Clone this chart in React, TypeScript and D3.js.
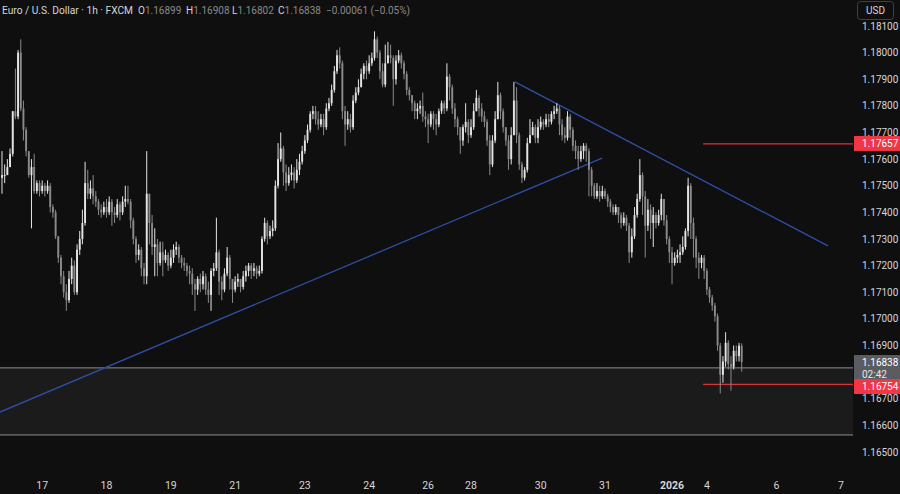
import * as d3 from 'd3';

// EUR/USD 1h candles (open of each bar = previous close)
const firstOpen = 1.1753;

const closes = [
  1.1754, 1.1754, 1.1757, 1.1762, 1.1778, 1.1776, 1.18, 1.1779, 1.1771, 1.1763,
  1.1754, 1.1757, 1.1748, 1.1751, 1.1748, 1.175, 1.1748, 1.175, 1.1742, 1.174,
  1.1731, 1.1723, 1.1716, 1.171, 1.1707, 1.1715, 1.172, 1.171, 1.1726, 1.173,
  1.1736, 1.1751, 1.1747, 1.1749, 1.1746, 1.1744, 1.1741, 1.174, 1.1742, 1.174,
  1.1744, 1.174, 1.1739, 1.1743, 1.174, 1.1744, 1.1745, 1.1744, 1.1737, 1.173,
  1.1724, 1.1726, 1.1719, 1.1716, 1.1747, 1.1736, 1.1727, 1.1728, 1.1721, 1.1725,
  1.1722, 1.1724, 1.172, 1.1723, 1.1726, 1.1727, 1.1723, 1.1721, 1.172, 1.1718,
  1.1717, 1.1713, 1.1711, 1.1715, 1.1713, 1.1716, 1.1711, 1.1709, 1.1718, 1.1719,
  1.1725, 1.1714, 1.1711, 1.1717, 1.1723, 1.1715, 1.1711, 1.1714, 1.1715, 1.1712,
  1.1716, 1.1718, 1.172, 1.1718, 1.1719, 1.1717, 1.1718, 1.173, 1.1736, 1.1731,
  1.1733, 1.1734, 1.175, 1.176, 1.1764, 1.1755, 1.1751, 1.1754, 1.1755, 1.1752,
  1.1756, 1.1759, 1.1763, 1.1767, 1.1771, 1.1777, 1.1778, 1.1775, 1.1773, 1.1775,
  1.1772, 1.1779, 1.1781, 1.1786, 1.1793, 1.1799, 1.1796, 1.1778, 1.1773, 1.1775,
  1.1772, 1.1782, 1.1785, 1.1787, 1.1792, 1.1795, 1.1793, 1.1796, 1.1798, 1.1805,
  1.18, 1.1793, 1.1788, 1.1796, 1.1799, 1.1798, 1.179, 1.1797, 1.1799, 1.1796,
  1.1792, 1.1786, 1.1784, 1.1781, 1.1778, 1.1779, 1.178, 1.1776, 1.1775, 1.1773,
  1.1777, 1.1775, 1.1773, 1.1778, 1.1781, 1.1779, 1.1791, 1.1787, 1.1779, 1.1775,
  1.1772, 1.1767, 1.1772, 1.1774, 1.1769, 1.1772, 1.1778, 1.1783, 1.1779, 1.1776,
  1.1774, 1.1767, 1.1758, 1.1767, 1.1775, 1.1784, 1.1778, 1.1772, 1.1767, 1.176,
  1.1769, 1.1782, 1.1769, 1.1758, 1.1753, 1.1756, 1.1766, 1.1769, 1.1772, 1.1768,
  1.1772, 1.1774, 1.1773, 1.1775, 1.1774, 1.1777, 1.1778, 1.1779, 1.1773, 1.1769,
  1.1768, 1.1776, 1.1771, 1.1765, 1.1763, 1.176, 1.1763, 1.1765, 1.1763, 1.1756,
  1.175, 1.1746, 1.1748, 1.1746, 1.1748, 1.1746, 1.1744, 1.1742, 1.174, 1.1742,
  1.1739, 1.1736, 1.1738, 1.1735, 1.1725, 1.1731, 1.1739, 1.1745, 1.1754, 1.1746,
  1.1735, 1.1741, 1.1736, 1.1739, 1.1736, 1.1739, 1.1745, 1.1737, 1.173, 1.1725,
  1.1721, 1.1723, 1.1724, 1.1725, 1.1727, 1.1733, 1.175, 1.1736, 1.173, 1.1723,
  1.1721, 1.1723, 1.1718, 1.1711, 1.1708, 1.1705, 1.1701, 1.169, 1.1679, 1.1684,
  1.1691, 1.1683, 1.1682, 1.1688, 1.1686, 1.16899, 1.16838,
];

const highs = [
  1.1763, 1.1758, 1.176, 1.1764, 1.1778, 1.1794, 1.1801, 1.1805, 1.1782, 1.1772,
  1.1763, 1.176, 1.1762, 1.1752, 1.1752, 1.1752, 1.1751, 1.1752, 1.1751, 1.1743,
  1.1741, 1.1731, 1.1724, 1.1718, 1.1713, 1.1718, 1.1723, 1.1722, 1.1728, 1.1733,
  1.1741, 1.1759, 1.1756, 1.1752, 1.1754, 1.1748, 1.1745, 1.1743, 1.1744, 1.1745,
  1.1746, 1.1745, 1.1742, 1.1745, 1.1744, 1.1746, 1.175, 1.175, 1.1745, 1.1738,
  1.1731, 1.1728, 1.1727, 1.1721, 1.1763, 1.1747, 1.1739, 1.1734, 1.173, 1.1729,
  1.1729, 1.1726, 1.1725, 1.1726, 1.1728, 1.1729, 1.1728, 1.1724, 1.1723, 1.1721,
  1.172, 1.1719, 1.1715, 1.1716, 1.1717, 1.1718, 1.1717, 1.1714, 1.1719, 1.1721,
  1.1738, 1.1726, 1.1716, 1.1719, 1.1727, 1.1724, 1.1715, 1.1716, 1.1717, 1.1715,
  1.1718, 1.172, 1.1721, 1.1721, 1.1721, 1.172, 1.172, 1.1731, 1.1738, 1.1737,
  1.1735, 1.1737, 1.1752, 1.1766, 1.177, 1.1765, 1.1758, 1.1757, 1.1758, 1.1757,
  1.176, 1.1762, 1.1765, 1.1769, 1.1773, 1.1778, 1.178, 1.178, 1.1778, 1.1777,
  1.1777, 1.1781, 1.1783, 1.1788, 1.1795, 1.1801, 1.1802, 1.1797, 1.178, 1.1778,
  1.1777, 1.1784, 1.1787, 1.179, 1.1794, 1.1796, 1.1797, 1.1799, 1.18, 1.1808,
  1.1806, 1.1801, 1.1796, 1.1803, 1.1804, 1.1803, 1.1799, 1.1799, 1.1801, 1.18,
  1.1797, 1.1793, 1.1787, 1.1784, 1.1782, 1.1781, 1.1782, 1.1785, 1.1778, 1.1777,
  1.1778, 1.1778, 1.1777, 1.1779, 1.1782, 1.1782, 1.1796, 1.1792, 1.1788, 1.1781,
  1.1776, 1.1772, 1.1773, 1.1781, 1.1775, 1.1775, 1.1781, 1.1786, 1.1784, 1.1781,
  1.1778, 1.1775, 1.1769, 1.1769, 1.1778, 1.1789, 1.1785, 1.1779, 1.1772, 1.1769,
  1.1772, 1.1789, 1.1787, 1.177, 1.1759, 1.1757, 1.1768, 1.1775, 1.1774, 1.1773,
  1.1775, 1.1776, 1.1775, 1.1777, 1.1777, 1.1778, 1.178, 1.1781, 1.178, 1.1775,
  1.1772, 1.1778, 1.1777, 1.1772, 1.1767, 1.1765, 1.1765, 1.1766, 1.1766, 1.1764,
  1.1757, 1.1751, 1.1751, 1.175, 1.175, 1.1749, 1.1747, 1.1745, 1.1743, 1.1743,
  1.1742, 1.174, 1.174, 1.1739, 1.1736, 1.1734, 1.1742, 1.1747, 1.176, 1.1755,
  1.1748, 1.1745, 1.1743, 1.1742, 1.174, 1.1741, 1.1747, 1.1745, 1.1739, 1.1731,
  1.1727, 1.1725, 1.1726, 1.1728, 1.1731, 1.1734, 1.1753, 1.1751, 1.1738, 1.1731,
  1.1725, 1.1724, 1.1724, 1.1719, 1.1712, 1.1709, 1.1706, 1.1702, 1.1691, 1.1686,
  1.1695, 1.1692, 1.1686, 1.169, 1.169, 1.1691, 1.16908,
];

const lows = [
  1.1747, 1.1751, 1.1754, 1.1757, 1.1761, 1.1775, 1.1775, 1.1778, 1.1767, 1.1761,
  1.1753, 1.1734, 1.1747, 1.1747, 1.1746, 1.1747, 1.1746, 1.1747, 1.174, 1.1738,
  1.173, 1.1721, 1.1713, 1.1708, 1.1703, 1.1706, 1.1713, 1.1709, 1.1709, 1.1724,
  1.1728, 1.1735, 1.1745, 1.1745, 1.1743, 1.1742, 1.1739, 1.1738, 1.1739, 1.1738,
  1.1739, 1.1735, 1.1736, 1.1738, 1.1737, 1.1739, 1.1742, 1.1743, 1.1734, 1.1728,
  1.1721, 1.1722, 1.1716, 1.1713, 1.1713, 1.1728, 1.1724, 1.1716, 1.1716, 1.172,
  1.1716, 1.1721, 1.1718, 1.1719, 1.1721, 1.1724, 1.1721, 1.1719, 1.1718, 1.1716,
  1.1713, 1.1709, 1.1703, 1.1709, 1.171, 1.1711, 1.1709, 1.1706, 1.1703, 1.1716,
  1.1718, 1.1709, 1.1707, 1.171, 1.1716, 1.1711, 1.1706, 1.171, 1.1712, 1.171,
  1.1711, 1.1714, 1.1716, 1.1715, 1.1716, 1.1715, 1.1716, 1.1717, 1.1729, 1.1728,
  1.173, 1.1731, 1.1733, 1.1749, 1.1759, 1.175, 1.1748, 1.175, 1.1752, 1.1749,
  1.1751, 1.1754, 1.1758, 1.1762, 1.1766, 1.177, 1.1775, 1.1773, 1.1771, 1.1772,
  1.1769, 1.1771, 1.1778, 1.178, 1.1785, 1.1792, 1.1794, 1.1775, 1.1765, 1.1771,
  1.177, 1.1771, 1.1781, 1.1784, 1.1787, 1.179, 1.179, 1.1792, 1.1795, 1.1797,
  1.1798, 1.179, 1.1787, 1.1787, 1.1796, 1.1796, 1.178, 1.1788, 1.1796, 1.1794,
  1.179, 1.1784, 1.1782, 1.1778, 1.1775, 1.1775, 1.1777, 1.1774, 1.1772, 1.1766,
  1.1772, 1.1771, 1.1769, 1.1772, 1.1777, 1.1777, 1.1778, 1.1782, 1.1777, 1.1772,
  1.1769, 1.1762, 1.1765, 1.177, 1.1766, 1.1768, 1.1771, 1.1778, 1.1776, 1.1774,
  1.1772, 1.1765, 1.1754, 1.1757, 1.1766, 1.1775, 1.1775, 1.177, 1.1765, 1.1756,
  1.1758, 1.1769, 1.1766, 1.1756, 1.1751, 1.1752, 1.1755, 1.1766, 1.1769, 1.1766,
  1.1766, 1.1771, 1.1771, 1.1772, 1.1772, 1.1773, 1.1775, 1.1777, 1.1769, 1.1767,
  1.1766, 1.1767, 1.1768, 1.1763, 1.176, 1.1756, 1.1759, 1.176, 1.1759, 1.1746,
  1.1746, 1.1745, 1.1745, 1.1744, 1.1745, 1.1745, 1.1742, 1.174, 1.1739, 1.1739,
  1.1736, 1.1734, 1.1735, 1.1733, 1.1721, 1.1723, 1.173, 1.1738, 1.1744, 1.1739,
  1.1723, 1.1733, 1.173, 1.1727, 1.1734, 1.1735, 1.1737, 1.1735, 1.1728, 1.1721,
  1.1713, 1.172, 1.1721, 1.1721, 1.1724, 1.1726, 1.1731, 1.173, 1.1723, 1.1719,
  1.1715, 1.1719, 1.1715, 1.1709, 1.1706, 1.1703, 1.1699, 1.1688, 1.1672, 1.1676,
  1.1682, 1.1681, 1.1673, 1.1681, 1.1684, 1.1684, 1.16802,
];

// price scale ticks
const priceTicks = [
  1.165, 1.166, 1.167, 1.168, 1.169, 1.17, 1.171, 1.172, 1.173,
  1.174, 1.175, 1.176, 1.177, 1.178, 1.179, 1.18, 1.181,
];

// time scale labels and the bar each one sits on
const dayLabels = ['17', '18', '19', '21', '23', '24', '26', '28', '30', '31', '2026', '4', '6', '7'];
const dayBars = [15, 39, 63, 87, 113, 137, 159, 175, 201, 225, 250, 263, 289, 313];

// drawings: [bar, price]
const supportLine = [[-0.75, 1.1665], [223.9, 1.17604]];
const resistanceLine = [[191.4, 1.1789], [308.2, 1.17274]];
const redLevels = [1.17657, 1.16754];
const redLevelFrom = 261.6;
const zoneTop = 1.16816;
const zoneBottom = 1.16564;

const lastPrice = 1.16838;
const countdown = '02:42';

// legend values of the last bar
const legendLabels = ['O', 'H', 'L', 'C'];
const legendValues = ['1.16899', '1.16908', '1.16802', '1.16838'];
const legendChange = '−0.00061 (−0.05%)';

const W = 900;
const H = 494;
const PANE_RIGHT = 853;
const FONT = 'Roboto, "Liberation Sans", sans-serif';

const BG = '#0f0f0f';
const UP = '#e4e4e4';
const DOWN = '#8a8a8a';
const TEXT = '#d6d6d6';
const RED = '#f23645';
const BLUE = '#2f4ea6';

export default function App() {
  const x = d3.scaleLinear().domain([0, closes.length - 1]).range([2, 741.7]);
  const y = d3.scaleLinear().domain([1.165, 1.181]).range([452, 26]);

  const candles = closes.map((c, i) => {
    const o = i === 0 ? firstOpen : closes[i - 1];
    const h = Math.max(highs[i], o, c);
    const l = Math.min(lows[i], o, c);
    return { i, o, h, l, c, up: c >= o };
  });

  const bodyW = 1.9;
  const line = d3
    .line<number[]>()
    .x((d) => x(d[0]))
    .y((d) => y(d[1]));

  // last price box, red level boxes pushed below it if they collide
  const lastTop = y(lastPrice) - 7;
  const lastBottom = lastTop + 24;
  const legendX = [138, 186, 232, 278];

  const levelBoxes = redLevels.map((p) => {
    let top = y(p) - 8;
    if (top < lastBottom && top + 16 > lastTop) top = lastBottom;
    return { p, top };
  });

  // scale labels hidden under the price boxes, like the terminal does
  const covered = (py: number) =>
    (py > lastTop - 3 && py < lastBottom + 3) ||
    levelBoxes.some((b) => py > b.top - 3 && py < b.top + 18);
  const visibleTicks = priceTicks.filter((p) => !covered(y(p)));

  return (
    <svg
      width={W}
      height={H}
      viewBox={`0 0 ${W} ${H}`}
      style={{ position: 'absolute', left: 0, top: 0, background: BG }}
      fontFamily={FONT}
    >
      <rect width={W} height={H} fill={BG} />

      {/* support / demand zone */}
      <rect
        x={0}
        y={y(zoneTop)}
        width={PANE_RIGHT}
        height={y(zoneBottom) - y(zoneTop)}
        fill='#1b1b1b'
      />
      <line x1={0} x2={PANE_RIGHT} y1={y(zoneTop)} y2={y(zoneTop)} stroke='#8e8e8e' strokeWidth={1} />
      <line x1={0} x2={PANE_RIGHT} y1={y(zoneBottom)} y2={y(zoneBottom)} stroke='#8e8e8e' strokeWidth={1} />

      {/* trend lines */}
      <path d={line(supportLine) ?? ''} stroke={BLUE} strokeWidth={1.3} fill='none' />
      <path d={line(resistanceLine) ?? ''} stroke={BLUE} strokeWidth={1.3} fill='none' />

      {/* horizontal levels */}
      {redLevels.map((p) => (
        <line
          key={p}
          x1={x(redLevelFrom)}
          x2={PANE_RIGHT}
          y1={y(p)}
          y2={y(p)}
          stroke='#d93340'
          strokeWidth={1.2}
        />
      ))}

      {/* candles */}
      {candles.map((d) => {
        const col = d.up ? UP : DOWN;
        const top = y(Math.max(d.o, d.c));
        const bh = Math.max(1, y(Math.min(d.o, d.c)) - top);
        return (
          <g key={d.i}>
            <line x1={x(d.i)} x2={x(d.i)} y1={y(d.h)} y2={y(d.l)} stroke={col} strokeWidth={1} />
            <rect x={x(d.i) - bodyW / 2} y={top} width={bodyW} height={bh} fill={col} />
          </g>
        );
      })}

      {/* price scale */}
      {visibleTicks.map((p) => (
        <text key={p} x={862} y={y(p)} dy='0.35em' fontSize={10} fill={TEXT}>
          {p.toFixed(5)}
        </text>
      ))}

      {/* last price box */}
      <rect x={854} y={lastTop} width={46} height={lastBottom - lastTop} fill='#5a5c62' />
      <text x={862} y={y(lastPrice) + 0.5} dy='0.35em' fontSize={10} fill='#ffffff'>
        {lastPrice.toFixed(5)}
      </text>
      <text x={862} y={y(lastPrice) + 12} dy='0.35em' fontSize={10} fill='#e6e6e6'>
        {countdown}
      </text>

      {levelBoxes.map(({ p, top }) => (
        <g key={`lbl${p}`}>
          <rect x={854} y={top} width={46} height={15} fill={RED} />
          <text x={862} y={top + 7.5} dy='0.35em' fontSize={10} fill='#ffffff'>
            {p.toFixed(5)}
          </text>
        </g>
      ))}

      {/* time scale */}
      {dayLabels.map((t, k) => (
        <text
          key={t}
          x={x(dayBars[k])}
          y={485}
          dy='0.35em'
          textAnchor='middle'
          fontSize={10.5}
          fontWeight={t === '2026' ? 700 : 400}
          fill={TEXT}
        >
          {t}
        </text>
      ))}

      {/* header */}
      <text x={2} y={10} dy='0.35em' fontSize={10} fill={TEXT} textLength={131} lengthAdjust='spacingAndGlyphs'>
        Euro / U.S. Dollar · 1h · FXCM
      </text>
      {legendLabels.map((l, k) => (
        <text key={l} x={legendX[k]} y={10} dy='0.35em' fontSize={10} fill={TEXT}>
          {l}
          <tspan fill={DOWN}>{legendValues[k]}</tspan>
        </text>
      ))}
      <text x={326} y={10} dy='0.35em' fontSize={10} fill={DOWN}>
        {legendChange}
      </text>

      {/* currency button */}
      <rect x={857.5} y={1.5} width={36} height={18} rx={3} fill='none' stroke='#3e4046' />
      <text x={875.5} y={10.5} dy='0.35em' textAnchor='middle' fontSize={10} fill={TEXT}>
        USD
      </text>
    </svg>
  );
}
